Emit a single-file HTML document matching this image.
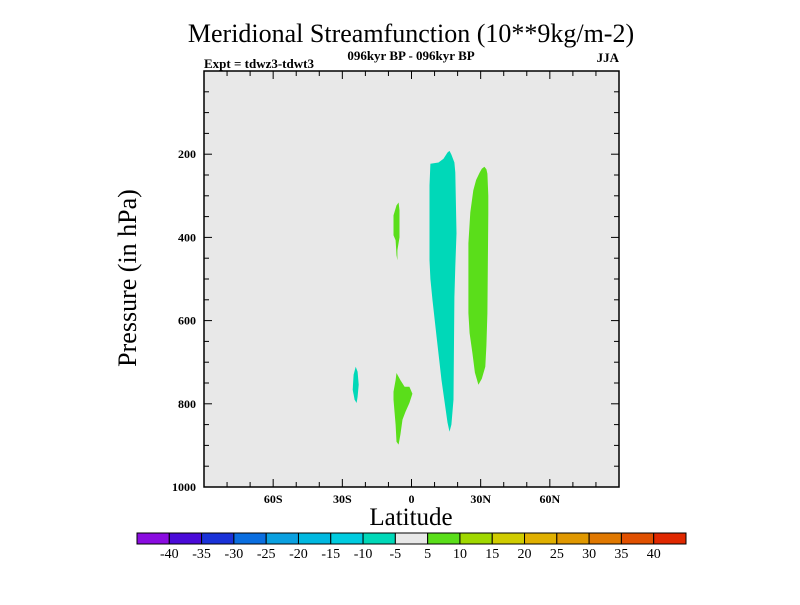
<!DOCTYPE html>
<html><head><meta charset="utf-8"><style>
body{margin:0;background:#fff;}
svg text{font-family:"Liberation Serif",serif;fill:#000;}
</style></head><body>
<svg id="chart" width="800" height="600" viewBox="0 0 800 600" xmlns="http://www.w3.org/2000/svg">
<text x="411" y="42" font-size="26" text-anchor="middle">Meridional Streamfunction (10**9kg/m-2)</text>
<text x="411" y="60" font-size="13" font-weight="bold" text-anchor="middle">096kyr BP - 096kyr BP</text>
<text x="204" y="68" font-size="13" font-weight="bold">Expt = tdwz3-tdwt3</text>
<text x="619" y="62" font-size="13" font-weight="bold" text-anchor="end">JJA</text>
<rect x="204" y="71" width="415" height="416" fill="#e8e8e8"/>
<g id="contours"></g>
<rect x="204" y="71" width="415" height="416" fill="none" stroke="#000" stroke-width="1.5"/>
<g id="axes"></g>
<text transform="translate(136,278) rotate(-90)" font-size="26" text-anchor="middle">Pressure (in hPa)</text>
<text x="411" y="525" font-size="25" text-anchor="middle">Latitude</text>
<g id="colorbar"></g>
</svg>
<script>
const xTickLats=[-60,-30,0,30,60];
const xTickLabels=["60S","30S","0","30N","60N"];
const yTickVals=[200,400,600,800,1000];
const cbLabels=["-40","-35","-30","-25","-20","-15","-10","-5","5","10","15","20","25","30","35","40"];
const cbColors=["#8a0ce0","#4a0ad8","#1a32d8","#0a6ee0","#0aa0e0","#00b8e0","#00cce0","#00d8b8","#e8e8e8","#5ade1a","#a0d800","#d0cc00","#e0b000","#e09800","#e07800","#e05000","#e02800"];
// contour regions: [lat, pressure]
const cyanBig=[[8.2,223],[11.7,220],[13.9,211],[15.6,196],[16.5,192],[17.3,201],[18.6,220],[19.0,244],[19.5,390],[19.0,470],[18.6,544],[18.2,790],[17.3,850],[16.5,867],[15.6,845],[13.0,743],[10.8,635],[9.1,551],[8.2,500],[7.8,455],[7.8,275]];
const greenBig=[[31.6,230],[32.5,236],[32.9,247],[33.3,300],[33.3,342],[32.9,582],[32.5,660],[32.0,711],[30.5,740],[29.0,754],[27.5,725],[26.4,678],[25.2,630],[24.7,582],[24.7,414],[25.5,340],[26.8,287],[28.0,262],[29.5,245],[30.5,235]];
const greenUpper=[[-5.6,316],[-5.2,335],[-5.2,400],[-6.1,431],[-6.1,455],[-6.5,443],[-6.9,407],[-7.8,395],[-7.8,347],[-6.5,323]];
const cyanSmall=[[-24.2,711],[-23.4,723],[-22.9,754],[-23.4,783],[-23.8,798],[-24.7,790],[-25.5,766],[-25.1,730]];
const greenLower=[[-6.5,726],[-4.8,743],[-3.0,759],[-0.9,759],[0.4,776],[-0.9,798],[-2.6,819],[-3.9,838],[-4.8,874],[-5.6,898],[-6.5,891],[-6.9,850],[-7.8,790],[-7.8,771],[-6.9,743]];
const regions=[[cyanBig,"#00d8b8","cyan-region-main"],[greenBig,"#5ade1a","green-region-30n"],[greenUpper,"#5ade1a","green-region-upper"],[cyanSmall,"#00d8b8","cyan-region-small"],[greenLower,"#5ade1a","green-region-lower"]];
const X0=204,X1=619,Y0=71,Y1=487;
function xs(lat){return X0+(lat+90)/180*(X1-X0);}
function ys(p){return Y0+p/1000*(Y1-Y0);}
const NS="http://www.w3.org/2000/svg";
function mk(tag,attrs,parent){const e=document.createElementNS(NS,tag);for(const k in attrs)e.setAttribute(k,attrs[k]);parent.appendChild(e);return e;}
const cg=document.getElementById('contours');
regions.forEach(r=>{
  const e=mk('polygon',{points:r[0].map(d=>xs(d[0]).toFixed(1)+','+ys(d[1]).toFixed(1)).join(' '),fill:r[1]},cg);
  
  
});
const ag=document.getElementById('axes');
for(let lat=-80;lat<=80;lat+=10){
  const major=(lat%30===0);const L=major?8:5;const x=xs(lat);
  const t1=mk('line',{x1:x,x2:x,y1:Y1,y2:Y1-L,stroke:'#000','stroke-width':1},ag);
  
  
  const t2=mk('line',{x1:x,x2:x,y1:Y0,y2:Y0+L,stroke:'#000','stroke-width':1},ag);
  
  
}
xTickLats.forEach((lat,i)=>{
  const t=mk('text',{x:xs(lat),y:503,'font-size':12,'font-weight':'bold','text-anchor':'middle'},ag);
  t.textContent=xTickLabels[i];
  
  
});
for(let p=50;p<1000;p+=50){
  const major=(p%200===0);const L=major?8:5;const y=ys(p);
  const t1=mk('line',{x1:X0,x2:X0+L,y1:y,y2:y,stroke:'#000','stroke-width':1},ag);
  
  
  const t2=mk('line',{x1:X1,x2:X1-L,y1:y,y2:y,stroke:'#000','stroke-width':1},ag);
  
  
}
yTickVals.forEach(p=>{
  const t=mk('text',{x:196,y:ys(p)+4,'font-size':12,'font-weight':'bold','text-anchor':'end'},ag);
  t.textContent=String(p);
  
  
});
const cb=document.getElementById('colorbar');
const CB0=137,CB1=686,CBY=533,CBH=11,bw=(CB1-CB0)/cbColors.length;
cbColors.forEach((c,i)=>{
  const r=mk('rect',{x:CB0+i*bw,y:CBY,width:bw,height:CBH,fill:c,stroke:'#000','stroke-width':1},cb);
  
  
});
cbLabels.forEach((l,i)=>{
  const t=mk('text',{x:CB0+(i+1)*bw,y:558,'font-size':14,'text-anchor':'middle'},cb);
  t.textContent=l;
  
  
});
</script>
</body></html>
